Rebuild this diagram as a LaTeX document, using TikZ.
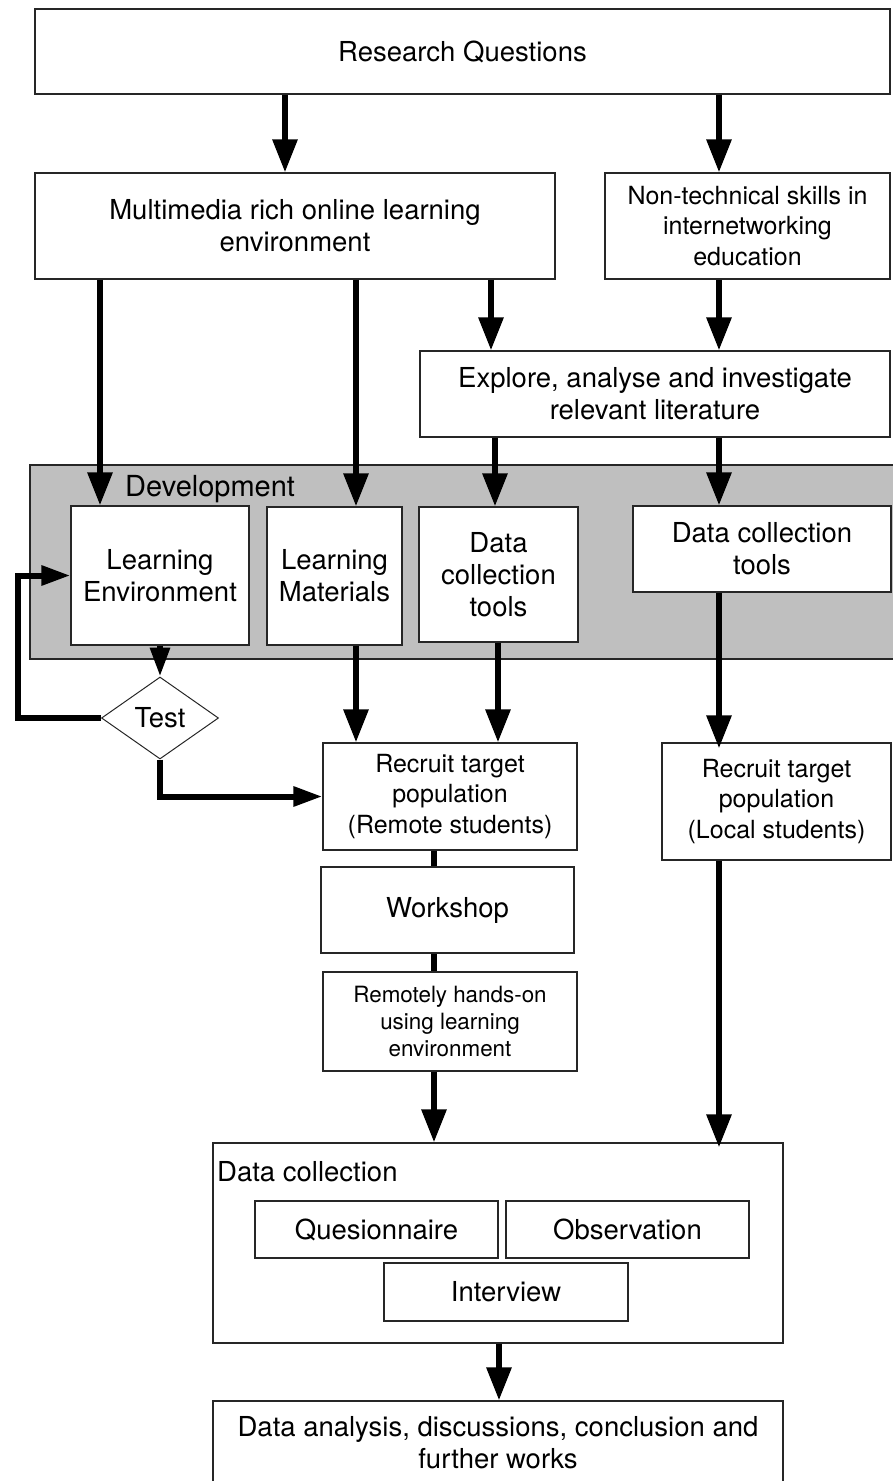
\documentclass[tikz,border=0pt]{standalone}
\usepackage{fontspec}
\setmainfont{TeX Gyre Heros}
\usetikzlibrary{arrows.meta,shapes.geometric,calc}
\begin{document}
\begin{tikzpicture}[x=1pt,y=-1pt,
  box/.style={draw=black!85,line width=1.3pt,fill=white,inner sep=0pt,align=center,
    font=\fontsize{27.5}{32}\selectfont},
  smallbox/.style={box,font=\fontsize{25}{30.5}\selectfont},
  tinybox/.style={box,font=\fontsize{22.4}{27}\selectfont},
  arr/.style={line width=6pt,-{Triangle[length=33pt,width=24pt]}},
  sarr/.style={line width=6pt,-{Triangle[length=29pt,width=19pt]}},
  link/.style={line width=6pt}]
\clip (0,0) rectangle (893,1481);
\useasboundingbox (0,0) rectangle (893,1481);
% column coordinates
\coordinate (x18) at (18,0);
\coordinate (x100) at (100,0);
\coordinate (x285) at (285,0);
\coordinate (x356) at (356,0);
\coordinate (x434) at (434,0);
\coordinate (x491) at (491,0);
\coordinate (x495) at (495,0);
\coordinate (x498) at (498,0);
\coordinate (x499) at (499,0);
\coordinate (x719) at (719,0);
% development area
\node[draw=black!85,line width=1.3pt,fill=black!25,minimum width=865pt,minimum height=194pt,inner sep=0pt] (dev) at (462.5,562) {};
\node[anchor=west,inner sep=0pt,font=\fontsize{29}{34}\selectfont] (devlbl) at (125,489) {Development};
% boxes
\node[box,minimum width=855pt,minimum height=85pt] (rq) at (462.5,51.5) {Research Questions};
\node[box,minimum width=520pt,minimum height=106pt] (mm) at (295,226) {Multimedia rich online learning\\environment};
\node[smallbox,minimum width=285pt,minimum height=106pt] (nt) at (747.5,226) {Non-technical skills in\\internetworking\\education};
\node[box,minimum width=470pt,minimum height=86pt] (ex) at (655,394) {Explore, analyse and investigate\\relevant literature};
\node[box,minimum width=178pt,minimum height=139pt] (le) at (160,575.5) {Learning\\Environment};
\node[box,minimum width=135pt,minimum height=138pt] (lm) at (334.5,576) {Learning\\Materials};
\node[box,minimum width=159pt,minimum height=135pt] (dct1) at (498.5,574.5) {Data\\collection\\tools};
\node[box,minimum width=258pt,minimum height=86pt] (dct2) at (762,549) {Data collection\\tools};
\node[draw=black!85,line width=1pt,fill=white,diamond,aspect=1.43,minimum width=117pt,minimum height=82pt,inner sep=0pt,font=\fontsize{27.5}{32}\selectfont] (test) at (160,718) {Test};
\node[smallbox,minimum width=254pt,minimum height=107pt] (rr) at (450,796.5) {Recruit target\\population\\(Remote students)};
\node[smallbox,minimum width=229pt,minimum height=117pt] (rl) at (776.5,801.5) {Recruit target\\population\\(Local students)};
\node[box,minimum width=253pt,minimum height=86pt] (ws) at (447.5,910) {Workshop};
\node[tinybox,minimum width=254pt,minimum height=99pt] (ru) at (450,1021.5) {Remotely hands-on\\using learning\\environment};
\node[box,minimum width=570pt,minimum height=200pt] (dc) at (498,1243) {};
\node[anchor=west,inner sep=0pt,font=\fontsize{27.5}{32}\selectfont] (dclbl) at (217,1172) {Data collection};
\node[box,minimum width=243pt,minimum height=57pt] (q) at (376.5,1229.5) {Quesionnaire};
\node[box,minimum width=243pt,minimum height=57pt] (ob) at (627.5,1229.5) {Observation};
\node[box,minimum width=244pt,minimum height=58pt] (iv) at (506,1292) {Interview};
\node[box,minimum width=570pt,minimum height=83pt] (da) at (498,1442.5) {Data analysis, discussions, conclusion and\\further works};
% connectors
\draw[arr] (rq.south -| x285) -- (mm.north -| x285);
\draw[arr] (rq.south -| x719) -- (nt.north -| x719);
\draw[arr] (mm.south -| x100) -- (le.north -| x100);
\draw[arr] (mm.south -| x356) -- (lm.north -| x356);
\draw[arr] (mm.south -| x491) -- (ex.north -| x491);
\draw[arr] (nt.south -| x719) -- (ex.north -| x719);
\draw[arr] (ex.south -| x495) -- (dct1.north -| x495);
\draw[arr] (ex.south -| x719) -- (dct2.north -| x719);
\draw[sarr] (le.south) -- (test.north);
\draw[sarr] (test.west) -| (x18 |- test.west) |- (le.west);
\draw[sarr] (test.south) |- (rr.west);
\draw[arr] (lm.south -| x356) -- (rr.north -| x356);
\draw[arr] (dct1.south -| x498) -- (rr.north -| x498);
\draw[arr,shorten >=-6pt] (dct2.south -| x719) -- (rl.north -| x719);
\draw[link] (rr.south -| x434) -- (ws.north -| x434);
\draw[link] (ws.south -| x434) -- (ru.north -| x434);
\draw[arr] (ru.south -| x434) -- (dc.north -| x434);
\draw[arr,shorten >=-5pt] (rl.south -| x719) -- (dc.north -| x719);
\draw[arr] (dc.south -| x499) -- (da.north -| x499);
\end{tikzpicture}
\end{document}
